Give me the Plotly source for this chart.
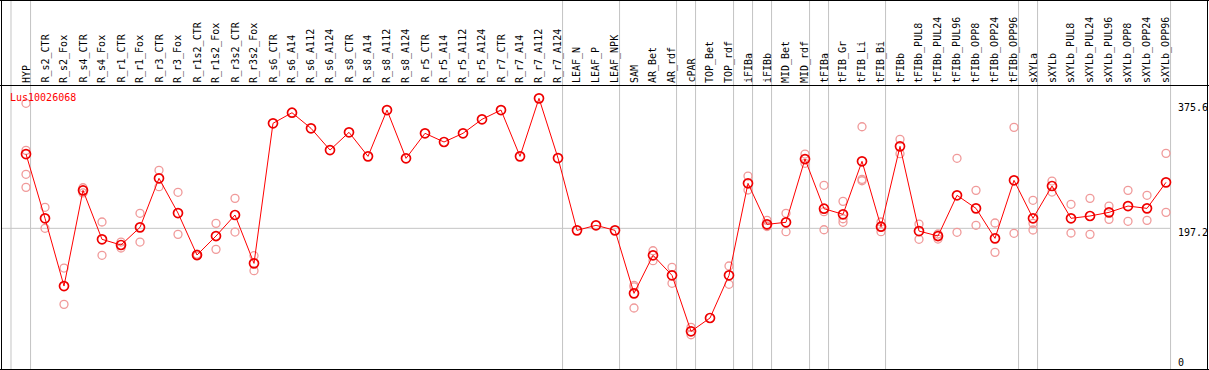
import plotly.graph_objects as go

categories = [
    "HYP", "R_s2_CTR", "R_s2_Fox", "R_s4_CTR", "R_s4_Fox", "R_r1_CTR", "R_r1_Fox",
    "R_r3_CTR", "R_r3_Fox", "R_r1s2_CTR", "R_r1s2_Fox", "R_r3s2_CTR", "R_r3s2_Fox",
    "R_s6_CTR", "R_s6_A14", "R_s6_A112", "R_s6_A124", "R_s8_CTR", "R_s8_A14",
    "R_s8_A112", "R_s8_A124", "R_r5_CTR", "R_r5_A14", "R_r5_A112", "R_r5_A124",
    "R_r7_CTR", "R_r7_A14", "R_r7_A112", "R_r7_A124", "LEAF_N", "LEAF_P", "LEAF_NPK",
    "SAM", "AR_Bet", "AR_rdf", "cPAR", "TOP_Bet", "TOP_rdf", "iFIBa", "iFIBb",
    "MID_Bet", "MID_rdf", "tFIBa", "tFIB_Gr", "tFIB_Li", "tFIB_Bi", "tFIBb",
    "tFIBb_PUL8", "tFIBb_PUL24", "tFIBb_PUL96", "tFIBb_OPP8", "tFIBb_OPP24",
    "tFIBb_OPP96", "sXYLa", "sXYLb", "sXYLb_PUL8", "sXYLb_PUL24", "sXYLb_PUL96",
    "sXYLb_OPP8", "sXYLb_OPP24", "sXYLb_OPP96",
]

mean_values = [
    303.2, 211.5, 114.8, 251.4, 181.5, 173.4, 198.6, 268.6, 219.0, 159.1, 186.2,
    216.2, 147.2, 347.1, 362.2, 339.9, 308.9, 334.2, 299.9, 366.0, 297.1, 332.8,
    320.4, 332.8, 352.8, 366.0, 299.9, 382.7, 297.5, 194.3, 201.5, 194.3, 104.4,
    158.7, 130.1, 50.2, 69.2, 130.1, 261.4, 202.9, 205.8, 296.1, 225.2, 217.2,
    292.8, 199.5, 314.2, 193.3, 186.2, 244.3, 225.7, 182.9, 265.7, 211.5, 257.6,
    211.5, 214.8, 220.0, 229.0, 225.7, 262.8,
]

replicate_values = [
    [375.6, 308.5, 274.3, 255.7], [227.2, 197.2], [140.5, 88.7], [255.1, 247.7],
    [206.2, 158.7], [177.6, 169.1], [218.6, 177.6], [280.0, 256.6], [248.6, 188.6],
    [160.5, 157.7], [204.3, 167.2], [240.0, 191.9], [158.1, 136.7],
    [], [], [], [], [], [], [], [], [], [], [], [], [], [], [], [],
    [], [], [],
    [115.8, 113.5, 83.5], [165.2, 151.0], [141.5, 118.7], [55.9, 45.3], [],
    [143.4, 117.3], [271.8, 251.9], [208.6, 200.5, 199.7], [218.6, 192.4],
    [303.2, 290.0], [258.6, 220.9, 195.2], [235.7, 210.9, 205.8],
    [342.2, 267.1, 265.1], [206.2, 199.5, 192.4], [324.2, 303.7], [203.3, 181.5],
    [189.1, 181.9], [297.1, 191.5], [251.4, 201.5], [204.8, 162.9], [341.3, 190.1],
    [237.2, 204.3, 194.8], [264.7, 249.0], [231.5, 190.5], [240.0, 188.6],
    [229.0, 210.0], [251.4, 207.2], [244.3, 208.6], [304.2, 220.0],
]

group_sizes = [1, 28, 3, 3, 1, 2, 1, 1, 2, 1, 3, 7, 1, 7]
gene_id = "Lus10026068"
tick_values = [375.6, 197.2, 0]
tick_labels = ["375.6", "197.2", "0"]
reference_line = 197.2

W, H = 1209, 370
FONT = "DejaVu Sans Mono"
GRID = "#c4c4c4"

xs = list(range(len(categories)))
rx, ry = [], []
for i, reps in enumerate(replicate_values):
    for v in reps:
        rx.append(i)
        ry.append(v)

fig = go.Figure()
fig.add_trace(go.Scatter(
    x=rx, y=ry, mode="markers", hoverinfo="skip", showlegend=False,
    marker=dict(symbol="circle-open", size=8, color="#f09a9a",
                line=dict(width=1.3, color="#f09a9a")),
))
fig.add_trace(go.Scatter(
    x=xs, y=mean_values, mode="lines+markers", showlegend=False,
    line=dict(color="#ff0000", width=1),
    marker=dict(symbol="circle-open", size=9, color="#ee0000",
                line=dict(width=1.7, color="#ee0000")),
))

shapes = []
# group separators
bounds = [-0.79]
acc = 0
for g in group_sizes:
    acc += g
    bounds.append(acc - 1 + 0.24)
for b in bounds:
    shapes.append(dict(type="line", xref="x", yref="paper", x0=b, x1=b, y0=0, y1=1,
                       line=dict(color=GRID, width=1), layer="below"))
shapes.append(dict(type="line", xref="x", yref="y", x0=-1.32, x1=bounds[-1],
                   y0=reference_line, y1=reference_line,
                   line=dict(color=GRID, width=1), layer="below"))


def px(v):
    return v / W


def py(v):
    return 1 - v / H


# black frame and header separator
for (x0, y0, x1, y1) in [(1.5, 0.5, 1.5, 369.5), (0, 0.5, W, 0.5), (1207.5, 0, 1207.5, 369.5),
                         (0, 369.5, W, 369.5), (0, 85.5, W, 85.5)]:
    shapes.append(dict(type="line", xref="paper", yref="paper",
                       x0=px(x0), x1=px(x1), y0=py(y0), y1=py(y1),
                       line=dict(color="black", width=1)))

annotations = []
for i, c in enumerate(categories):
    annotations.append(dict(x=i, xref="x", y=py(84), yref="paper", text=c,
                            textangle=-90, xanchor="center", yanchor="bottom",
                            showarrow=False, borderpad=0,
                            font=dict(family=FONT, size=10, color="black")))
annotations.append(dict(x=px(9), xref="paper", y=py(97), yref="paper", text=gene_id,
                        xanchor="left", yanchor="middle", showarrow=False, borderpad=0,
                        font=dict(family=FONT, size=10, color="#ff0000")))
for v, t in zip(tick_values, tick_labels):
    shift = -4 if v > 0 else 4.5
    annotations.append(dict(x=px(1177), xref="paper", y=v, yref="y", text=t,
                            xanchor="left", yanchor="middle", yshift=shift,
                            showarrow=False, borderpad=0,
                            font=dict(family=FONT, size=10, color="black")))

k = 1.4272
fig.update_layout(
    width=W, height=H, autosize=False,
    margin=dict(l=0, r=0, t=0, b=0, pad=0),
    paper_bgcolor="white", plot_bgcolor="white",
    xaxis=dict(range=[-26 / 19, (W - 26) / 19], visible=False, fixedrange=True),
    yaxis=dict(range=[-(H - 366.5) * k, 366.5 * k], visible=False, fixedrange=True),
    shapes=shapes, annotations=annotations,
)

fig.write_html(
    "out.html",
    config={"displayModeBar": False},
    post_script="document.body.style.margin='0px';document.body.style.overflow='hidden';",
)
